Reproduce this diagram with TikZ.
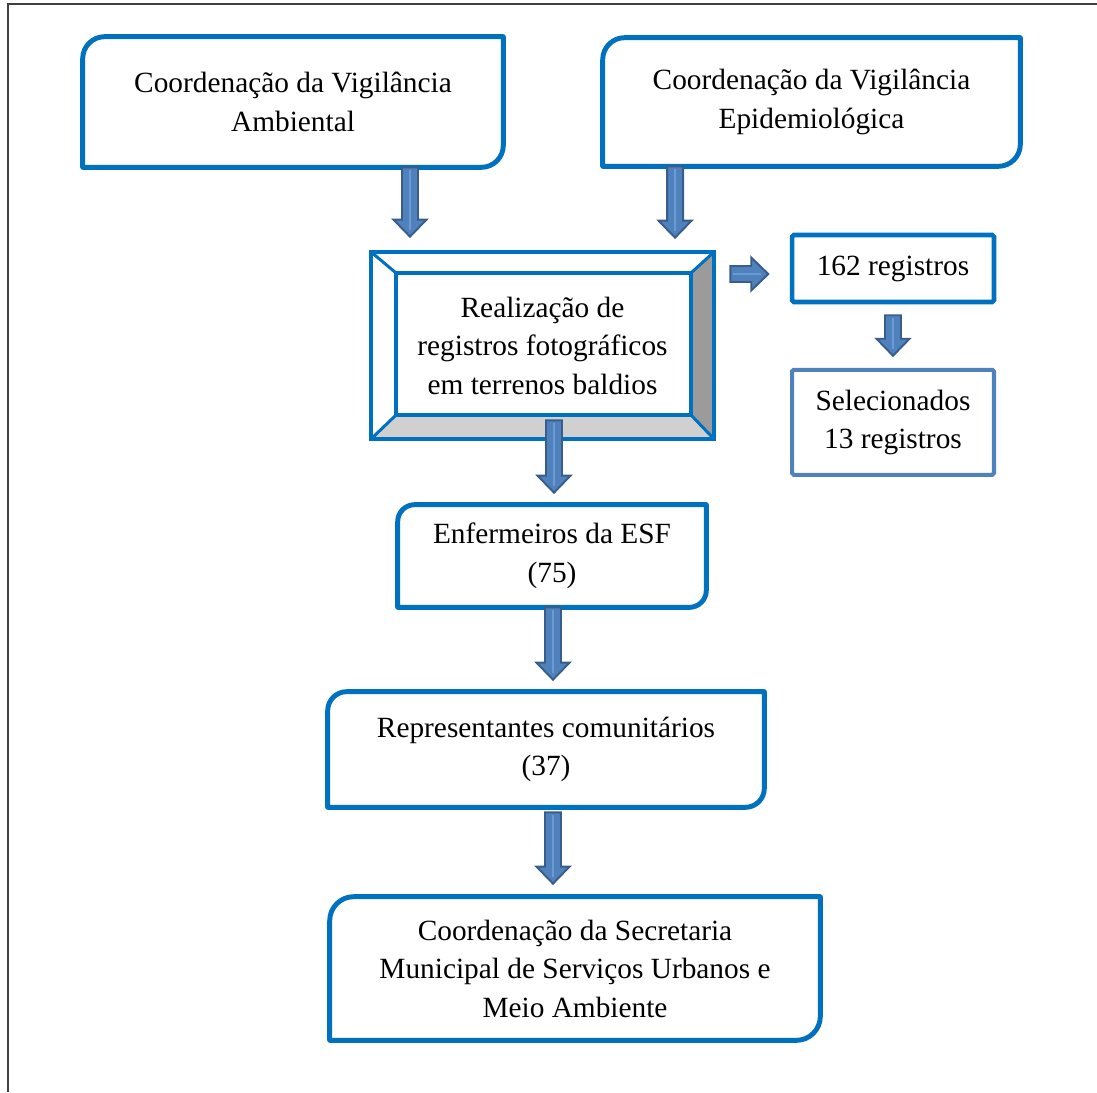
\documentclass[tikz,border=0pt]{standalone}
\usepackage{fontspec}
\setmainfont{Liberation Serif}
\usepackage{tikz}
\usetikzlibrary{positioning,calc}
\definecolor{flowBlue}{HTML}{0070C0}
\definecolor{flowLight}{HTML}{4F81BD}
\definecolor{flowDark}{HTML}{385D8A}
\definecolor{flowPale}{HTML}{6C9AD2}
\definecolor{bevDark}{HTML}{9B9B9B}
\definecolor{bevLight}{HTML}{D0D0D0}
\newcommand{\bodytext}{\fontsize{16.7}{21.9}\selectfont}
\tikzset{
  stage/.style={inner sep=0pt,align=center,font=\bodytext},
  stageline/.style={draw=flowBlue,line width=2.8pt,line join=round},
  countbox/.style={stage,draw=flowBlue,line width=2.6pt,rounded corners=1pt},
  selbox/.style={stage,draw=flowLight,line width=2.3pt,rounded corners=1pt},
  bevline/.style={draw=flowBlue,line width=2.3pt},
  bevdiag/.style={draw=flowBlue,line width=1.7pt},
  blockarrow/.style={fill=flowLight,draw=flowDark,line width=1.1pt,line join=miter},
  arrowshine/.style={draw=flowPale,line width=1.6pt},
  frameline/.style={draw=black!75,line width=1.1pt}
}
% caixa com cantos arredondados em diagonal: nome, raio
\newcommand{\diagbox}[2]{%
  \draw[stageline] (#1.south west) -- ([yshift=-#2]#1.north west)
    arc[start angle=180,end angle=90,radius=#2] -- (#1.north east)
    -- ([yshift=#2]#1.south east) arc[start angle=0,end angle=-90,radius=#2] -- cycle;}
% seta larga: cauda, ponta
\newcommand{\bigarrow}[2]{%
  \coordinate (ab) at ($(#2)!0.34cm!(#1)$);
  \draw[blockarrow] ($(#1)!0.16cm!90:(#2)$) -- ($(ab)!0.16cm!-90:(#1)$)
    -- ($(ab)!0.33cm!-90:(#1)$) -- (#2) -- ($(ab)!0.33cm!90:(#1)$)
    -- ($(ab)!0.16cm!90:(#1)$) -- ($(#1)!0.16cm!-90:(#2)$) -- cycle;
  \draw[arrowshine] ($(#1)!0.06cm!(#2)$) -- ($(#2)!0.14cm!(#1)$);}

\begin{document}
\begin{tikzpicture}[x=0.02cm,y=-0.02cm]
  \useasboundingbox (0,0) rectangle (1097,1092);
  \draw[frameline] (1097,4) -- (8,4) -- (8,1092);

  \node[stage,minimum width=8.4cm,minimum height=2.6cm] (amb) at (293,102) {Coordenação da Vigilância\\Ambiental};
  \node[stage,minimum width=8.34cm,minimum height=2.56cm] (epi) at (811.5,102) {Coordenação da Vigilância\\Epidemiológica};
  \node[stage,minimum width=6.86cm,minimum height=3.74cm] (bev) at (542.5,345.5) {Realização de\\registros fotográficos\\em terrenos baldios};
  \node[countbox,minimum width=4.04cm,minimum height=1.34cm] (reg) at (893,268.5) {162 registros};
  \node[selbox,minimum width=4.04cm,minimum height=2.1cm,below=1.27cm of reg] (sel) {Selecionados\\13 registros};
  \node[stage,minimum width=6.16cm,minimum height=2.04cm] (enf) at (552,556) {Enfermeiros da ESF\\(75)};
  \node[stage,minimum width=8.72cm,minimum height=2.3cm] (rep) at (546,749.5) {Representantes comunitários\\(37)};
  \node[stage,minimum width=9.8cm,minimum height=2.86cm] (sec) at (575,968.5) {Coordenação da Secretaria\\Municipal de Serviços Urbanos e\\Meio Ambiente};

  \diagbox{amb}{0.44cm}
  \diagbox{epi}{0.44cm}
  \diagbox{enf}{0.34cm}
  \diagbox{rep}{0.38cm}
  \diagbox{sec}{0.48cm}

  % moldura chanfrada
  \path ([shift={(0.5cm,-0.42cm)}]bev.north west) coordinate (iNW)
        ([shift={(-0.46cm,-0.42cm)}]bev.north east) coordinate (iNE)
        ([shift={(-0.46cm,0.48cm)}]bev.south east) coordinate (iSE)
        ([shift={(0.5cm,0.48cm)}]bev.south west) coordinate (iSW);
  \fill[bevDark] (bev.north east) -- (bev.south east) -- (iSE) -- (iNE) -- cycle;
  \fill[bevLight] (bev.south west) -- (bev.south east) -- (iSE) -- (iSW) -- cycle;
  \draw[bevdiag] (bev.north west) -- (iNW) (bev.north east) -- (iNE)
                 (bev.south east) -- (iSE) (bev.south west) -- (iSW);
  \draw[bevline] (iNW) rectangle (iSE);
  \draw[bevline] (bev.north west) rectangle (bev.south east);

  % setas
  \path ([xshift=2.34cm]amb.south) coordinate (a1);
  \path (a1 |- bev.north) ++(0,0.3cm) coordinate (a2);
  \path ([xshift=-2.73cm]epi.south) coordinate (e1);
  \path (e1 |- bev.north) ++(0,0.28cm) coordinate (e2);
  \path (bev.east |- reg.west) ++(0.32cm,-0.11cm) coordinate (r1);
  \path (reg.west) ++(-0.43cm,-0.11cm) coordinate (r2);
  \path (reg.south) ++(0,-0.22cm) coordinate (s1);
  \path (sel.north) ++(0,0.24cm) coordinate (s2);
  \path (bev.south -| enf.north) ++(0.04cm,0.38cm) coordinate (b1);
  \path (enf.north) ++(0.04cm,0.24cm) coordinate (b2);
  \path (enf.south) ++(0.02cm,0) coordinate (n1);
  \path (n1 |- rep.north) ++(0,0.24cm) coordinate (n2);
  \path (rep.south -| n1) ++(0,-0.1cm) coordinate (p1);
  \path (p1 |- sec.north) ++(0,0.26cm) coordinate (p2);

  \bigarrow{a1}{a2}
  \bigarrow{e1}{e2}
  \bigarrow{r1}{r2}
  \bigarrow{s1}{s2}
  \bigarrow{b1}{b2}
  \bigarrow{n1}{n2}
  \bigarrow{p1}{p2}
\end{tikzpicture}
\end{document}
